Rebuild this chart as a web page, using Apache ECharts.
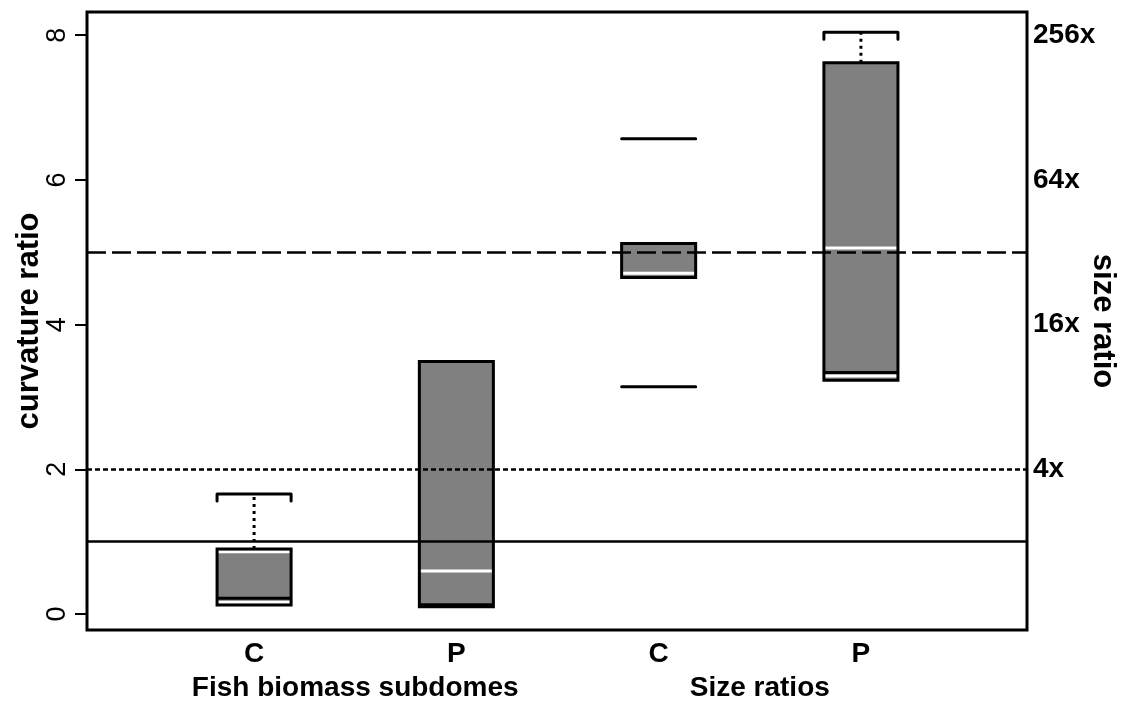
<!DOCTYPE html>
<html>
<head>
<meta charset="utf-8">
<script src="https://cdn.jsdelivr.net/npm/echarts@6/dist/echarts.min.js"></script>
<style>
html,body{margin:0;padding:0;background:#fff;}
#chart{width:1124px;height:703px;}
</style>
</head>
<body>
<div id="chart"></div>
<script>
// ---- data ----
const categories = ['C', 'P', 'C', 'P'];
const groupNames = ['Fish biomass subdomes', 'Size ratios'];
const boxBottom = [0.125, 0.10, 4.65, 3.23];
const boxTop = [0.90, 3.49, 5.12, 7.62];
const whiteLines = [[0.86, 0.165], [0.595], [4.71], [5.06, 3.29]];
const innerBlackLines = [[0.22], [0.13], [], [3.34]];
const upperWhisker = [1.66, null, null, 8.04];
const capLines = [[], [], [6.57, 3.14], []];
const refSolid = 1;
const refDotted = 2;
const refDashed = 5;
const leftTicks = [0, 2, 4, 6, 8];
const rightTicks = [2, 4, 6, 8];
const rightLabels = ['4x', '16x', '64x', '256x'];
const groupCenters = [1.5, 3.5];

// ---- chart ----
const FONT = "'Liberation Sans', Arial, sans-serif";
const HALF = 0.183;
const chart = echarts.init(document.getElementById('chart'), null, {renderer: 'canvas'});

function renderItem(params, api) {
  const i = params.dataIndex;
  const x = api.value(0);
  const p = (xx, yy) => api.coord([xx, yy]);
  const children = [];
  const tl = p(x - HALF, boxTop[i]);
  const br = p(x + HALF, boxBottom[i]);
  const rect = {x: tl[0], y: tl[1], width: br[0] - tl[0], height: br[1] - tl[1]};
  children.push({type: 'rect', shape: rect, style: {fill: '#808080', stroke: null}});
  const hline = (v, color, extra) => {
    const a = p(x - HALF, v), b = p(x + HALF, v);
    children.push({type: 'line', shape: {x1: a[0], y1: a[1], x2: b[0], y2: b[1]},
      style: Object.assign({stroke: color, lineWidth: 3}, extra || {})});
  };
  innerBlackLines[i].forEach(v => hline(v, '#000'));
  whiteLines[i].forEach(v => hline(v, '#fff'));
  children.push({type: 'rect', shape: rect, style: {fill: null, stroke: '#000', lineWidth: 3}});
  if (upperWhisker[i] != null) {
    const a = p(x, boxTop[i]), b = p(x, upperWhisker[i]);
    children.push({type: 'line', shape: {x1: a[0], y1: a[1], x2: b[0], y2: b[1]},
      style: {stroke: '#000', lineWidth: 3, lineDash: [3, 4]}});
    const l = p(x - HALF, upperWhisker[i]), r = p(x + HALF, upperWhisker[i]);
    children.push({type: 'polyline', shape: {points: [[l[0], l[1] + 7], [l[0], l[1]], [r[0], r[1]], [r[0], r[1] + 7]]},
      style: {stroke: '#000', lineWidth: 3, fill: null, lineJoin: 'round', lineCap: 'round'}});
  }
  capLines[i].forEach(v => hline(v, '#000', {lineCap: 'round'}));
  return {type: 'group', children: children};
}

const labelStyle = {color: '#000', fontFamily: FONT, fontWeight: 'bold', fontSize: 28};
const nameStyle = {color: '#000', fontFamily: FONT, fontWeight: 'bold', fontSize: 31};

const option = {
  backgroundColor: '#fff',
  animation: false,
  grid: {left: 87, right: 97, top: 12, bottom: 73, show: true, borderColor: '#000', borderWidth: 3,
         containLabel: false, outerBoundsMode: 'none'},
  xAxis: [
    {type: 'value', min: 0.174, max: 4.821, splitLine: {show: false}, axisLine: {show: false}, axisTick: {show: false},
     axisLabel: Object.assign({customValues: [1, 2, 3, 4], margin: 10, formatter: v => categories[Math.round(v) - 1]}, labelStyle)},
    {type: 'value', position: 'bottom', min: 0.174, max: 4.821, splitLine: {show: false}, axisLine: {show: false}, axisTick: {show: false},
     axisLabel: Object.assign({customValues: groupCenters, margin: 44, formatter: v => groupNames[Math.round((v - 1.5) / 2)]}, labelStyle)}
  ],
  yAxis: [
    {type: 'value', position: 'left', min: -0.22, max: 8.32, splitLine: {show: false}, axisLine: {show: false},
     axisTick: {show: true, customValues: leftTicks, length: 12, lineStyle: {color: '#000', width: 2}},
     axisLabel: {customValues: leftTicks, rotate: 90, margin: 16, color: '#000', fontFamily: FONT, fontSize: 27},
     name: 'curvature ratio', nameLocation: 'middle', nameRotate: 90, nameGap: 42, nameMoveOverlap: false,
     nameTextStyle: nameStyle},
    {type: 'value', position: 'right', min: -0.22, max: 8.32, splitLine: {show: false}, axisLine: {show: false},
     axisTick: {show: false},
     axisLabel: Object.assign({customValues: rightTicks, margin: 6, align: 'left',
       formatter: v => rightLabels[rightTicks.indexOf(Math.round(v))]}, labelStyle),
     name: 'size ratio', nameLocation: 'middle', nameRotate: -90, nameGap: 60, nameMoveOverlap: false,
     nameTextStyle: nameStyle}
  ],
  series: [
    {type: 'custom', renderItem: renderItem, xAxisIndex: 0, yAxisIndex: 0, z: 2,
     data: categories.map((c, i) => [i + 1]), encode: {x: 0}},
    {type: 'line', data: [], xAxisIndex: 0, yAxisIndex: 0, z: 5, silent: true,
     markLine: {symbol: 'none', silent: true, label: {show: false}, z: 5,
       data: [
         {yAxis: refSolid, lineStyle: {color: '#000', width: 2.5, type: 'solid'}},
         {yAxis: refDotted, lineStyle: {color: '#000', width: 2.5, type: [5, 3]}},
         {yAxis: refDashed, lineStyle: {color: '#000', width: 2.5, type: [19, 6]}}
       ]}}
  ]
};
chart.setOption(option);
</script>
</body>
</html>
